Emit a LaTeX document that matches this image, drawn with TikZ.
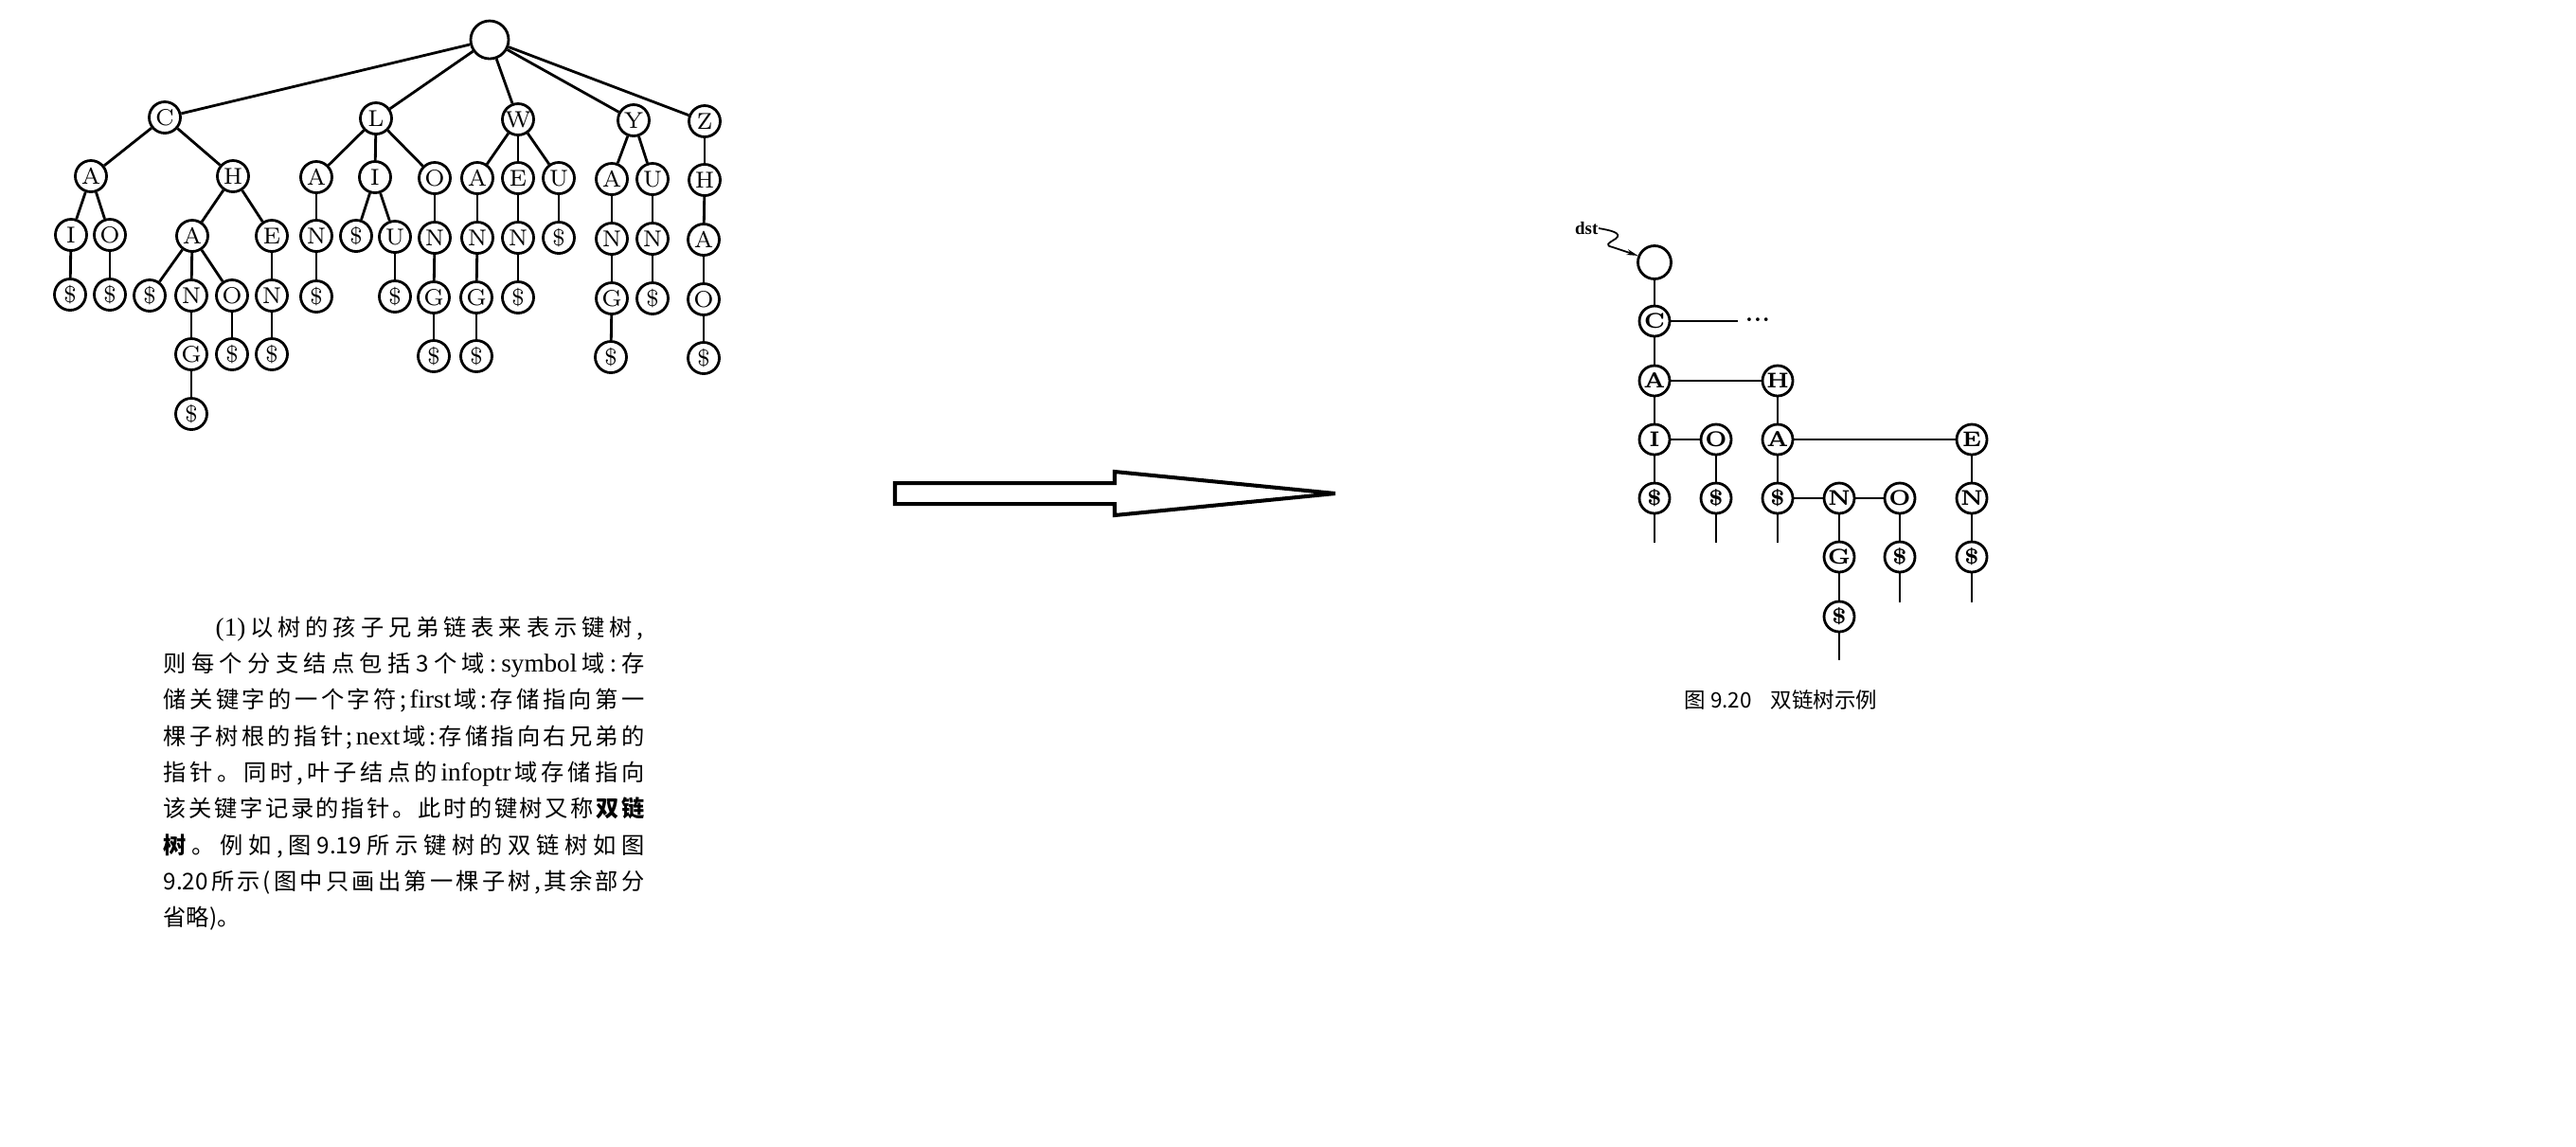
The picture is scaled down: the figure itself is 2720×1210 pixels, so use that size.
\documentclass[tikz,border=0pt]{standalone}
\usepackage{fontspec}
\newfontfamily\cjk{Noto Sans CJK SC}
\newfontfamily\latf[Scale=1.12]{Liberation Serif}
\usetikzlibrary{arrows.meta}
\frenchspacing
\newcommand\jl[2]{\makebox[#1][s]{\spaceskip=0pt plus 1fil\relax #2}}
\newcommand\lat[1]{{\latf #1}}
\tikzset{
  lt/.style={circle,draw,line width=0.8pt,minimum size=3.3mm,inner sep=0pt,
    font=\fontsize{6.9pt}{7.5pt}\selectfont},
  rt/.style={circle,draw,line width=0.8pt,minimum size=3.2mm,inner sep=0pt,
    font=\fontsize{6.4pt}{7pt}\selectfont\bfseries},
  edge/.style={line width=0.8pt},
  redge/.style={line width=0.8pt},
  txt/.style={anchor=base west,inner sep=0pt,font=\cjk\fontsize{6.9pt}{7.5pt}\selectfont},
  captxt/.style={anchor=base west,inner sep=0pt,font=\cjk\fontsize{6.4pt}{7pt}\selectfont},
}
\begin{document}
\begin{tikzpicture}[x=0.1mm,y=-0.1mm]
\fill[white] (0,0) rectangle (2720,1210);
\useasboundingbox (0,0) rectangle (2720,1210);

% ---------------- left tree ----------------
\node[lt,minimum size=4mm] (r) at (517,42) {};
\node[lt] (c) at (174,124) {C};
\node[lt] (l) at (397,125) {L};
\node[lt] (w) at (547,126) {W};
\node[lt] (y) at (669,127) {Y};
\node[lt] (z) at (744,128) {Z};
\node[lt] (ca) at (96,186) {A};
\node[lt] (ch) at (246,186) {H};
\node[lt] (la) at (334,187) {A};
\node[lt] (li) at (396,187) {I};
\node[lt] (lo) at (459,188) {O};
\node[lt] (wa) at (504,188) {A};
\node[lt] (we) at (547,188) {E};
\node[lt] (wu) at (590,188) {U};
\node[lt] (ya) at (646,189) {A};
\node[lt] (yu) at (689,189) {U};
\node[lt] (zh) at (744,190) {H};
\node[lt] (cai) at (75,248) {I};
\node[lt] (cao) at (116,248) {O};
\node[lt] (cha) at (203,249) {A};
\node[lt] (che) at (287,249) {E};
\node[lt] (lan) at (334,249) {N};
\node[lt] (lid) at (376,249) {\$};
\node[lt] (liu) at (417,250) {U};
\node[lt] (lon) at (459,251) {N};
\node[lt] (wan) at (504,251) {N};
\node[lt] (wen) at (547,251) {N};
\node[lt] (wud) at (590,251) {\$};
\node[lt] (yan) at (646,252) {N};
\node[lt] (yun) at (689,252) {N};
\node[lt] (zha) at (743,253) {A};
\node[lt] (caid) at (74,311) {\$};
\node[lt] (caod) at (116,311) {\$};
\node[lt] (chad) at (158,312) {\$};
\node[lt] (chan) at (202,312) {N};
\node[lt] (chao) at (245,312) {O};
\node[lt] (chen) at (287,312) {N};
\node[lt] (land) at (334,313) {\$};
\node[lt] (liud) at (417,313) {\$};
\node[lt] (long) at (458,314) {G};
\node[lt] (wang) at (503,314) {G};
\node[lt] (wend) at (547,314) {\$};
\node[lt] (yang) at (646,315) {G};
\node[lt] (yund) at (689,315) {\$};
\node[lt] (zhao) at (743,316) {O};
\node[lt] (chang) at (202,374) {G};
\node[lt] (chaod) at (245,374) {\$};
\node[lt] (chend) at (287,374) {\$};
\node[lt] (longd) at (458,376) {\$};
\node[lt] (wangd) at (503,376) {\$};
\node[lt] (yangd) at (645,377) {\$};
\node[lt] (zhaod) at (743,378) {\$};
\node[lt] (changd) at (202,437) {\$};

\foreach \a/\b in {r/c,r/l,r/w,r/y,r/z,
  c/ca,c/ch,ca/cai,ca/cao,cai/caid,cao/caod,
  ch/cha,ch/che,cha/chad,cha/chan,cha/chao,chan/chang,chang/changd,chao/chaod,che/chen,chen/chend,
  l/la,l/li,l/lo,la/lan,lan/land,li/lid,li/liu,liu/liud,lo/lon,lon/long,long/longd,
  w/wa,w/we,w/wu,wa/wan,wan/wang,wang/wangd,we/wen,wen/wend,wu/wud,
  y/ya,y/yu,ya/yan,yan/yang,yang/yangd,yu/yun,yun/yund,
  z/zh,zh/zha,zha/zhao,zhao/zhaod}
  \draw[edge] (\a) -- (\b);

% ---------------- text ----------------
\node[txt] (t1) at (227,671) {\jl{45.2mm}{\lat{(1)} 以 树 的 孩 子 兄 弟 链 表 来 表 示 键 树 ,}};
\node[txt] (t2) at (172,709) {\jl{50.8mm}{则 每 个 分 支 结 点 包 括 3 个 域 : \lat{symbol} 域 : 存}};
\node[txt] (t3) at (172,747) {\jl{50.8mm}{储 关 键 字 的 一 个 字 符 ; \lat{first} 域 : 存 储 指 向 第 一}};
\node[txt] (t4) at (172,786) {\jl{50.8mm}{棵 子 树 根 的 指 针 ; \lat{next} 域 : 存 储 指 向 右 兄 弟 的}};
\node[txt] (t5) at (172,824) {\jl{50.8mm}{指 针 。 同 时 , 叶 子 结 点 的 \lat{infoptr} 域 存 储 指 向}};
\node[txt] (t6) at (172,862) {\jl{50.8mm}{该 关 键 字 记 录 的 指 针 。 此 时 的 键 树 又 称 {\bfseries 双 链}}};
\node[txt] (t7) at (172,901) {\jl{50.8mm}{{\bfseries 树} 。 例 如 , 图 9.19 所 示 键 树 的 双 链 树 如 图}};
\node[txt] (t8) at (172,939) {\jl{50.8mm}{9.20 所 示 ( 图 中 只 画 出 第 一 棵 子 树 , 其 余 部 分}};
\node[txt] (t9) at (172,977) {省略)。};

% ---------------- big arrow ----------------
\draw[line width=1.15pt] (945,510) -- (1177,510) -- (1177,498) -- (1410,521)
  -- (1177,544) -- (1177,532) -- (945,532) -- cycle;

% ---------------- right tree ----------------
\node[rt,minimum size=3.5mm] (rroot) at (1747,277) {};
\node[rt] (rC) at (1747,339) {C};
\node[inner sep=0pt,font=\fontsize{6.4pt}{7pt}\selectfont\bfseries] (rdots) at (1856,338) {...};
\coordinate (rCend) at (1835,339);
\node[rt] (rA) at (1747,402) {A};
\node[rt] (rH) at (1877,402) {H};
\node[rt] (rI) at (1747,464) {I};
\node[rt] (rO) at (1812,464) {O};
\node[rt] (rHA) at (1877,464) {A};
\node[rt] (rE) at (2082,464) {E};
\node[rt] (rID) at (1747,526) {\$};
\node[rt] (rOD) at (1812,526) {\$};
\node[rt] (rHAD) at (1877,526) {\$};
\node[rt] (rN) at (1942,526) {N};
\node[rt] (rOO) at (2006,526) {O};
\node[rt] (rEN) at (2082,526) {N};
\node[rt] (rG) at (1942,588) {G};
\node[rt] (rOOD) at (2006,588) {\$};
\node[rt] (rEND) at (2082,588) {\$};
\node[rt] (rGD) at (1942,651) {\$};
\coordinate (e1) at (1747,573);
\coordinate (e2) at (1812,573);
\coordinate (e3) at (1877,573);
\coordinate (e4) at (2006,636);
\coordinate (e5) at (2082,636);
\coordinate (e6) at (1942,697);

\foreach \a/\b in {rroot/rC,rC/rCend,rC/rA,rA/rH,rA/rI,rI/rO,rH/rHA,rHA/rE,
  rI/rID,rO/rOD,rHA/rHAD,rHAD/rN,rN/rOO,rN/rG,rOO/rOOD,rE/rEN,rEN/rEND,rG/rGD,
  rID/e1,rOD/e2,rHAD/e3,rOOD/e4,rEND/e5,rGD/e6}
  \draw[redge] (\a) -- (\b);

% dst pointer
\node[anchor=east,inner sep=0pt,font=\latf\fontsize{4.8pt}{6pt}\selectfont\bfseries] (dst) at (1688,241) {dst};
\draw[line width=0.5pt,-{Stealth[length=1.2mm,width=0.6mm]}]
  (dst.east) .. controls (1700,243) and (1714,246) .. (1706,252)
  .. controls (1698,257) and (1694,259) .. (1703,261) -- (rroot.158);

% caption
\node[captxt] (caption) at (1778,747) {图 9.20\hspace{2mm}双链树示例};
\end{tikzpicture}
\end{document}
